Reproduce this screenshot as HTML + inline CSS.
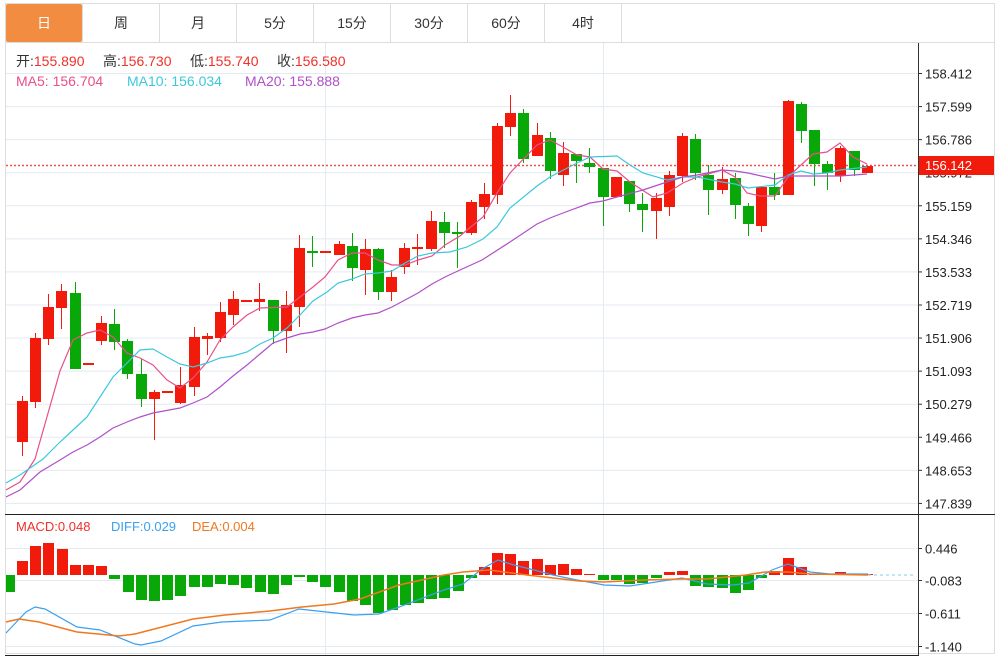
<!DOCTYPE html>
<html><head><meta charset="utf-8"><style>
body{margin:0;width:1003px;height:658px;background:#fff;overflow:hidden;font-family:"Liberation Sans","Noto Sans CJK SC",sans-serif;}
svg{position:absolute;left:0;top:0}
</style></head><body>
<svg id="s" width="1003" height="658" xmlns="http://www.w3.org/2000/svg" font-family="Liberation Sans, Noto Sans CJK SC, sans-serif">
<rect x="5.5" y="3.5" width="989" height="650" fill="#fff" stroke="#ddd"/>
<line x1="5" y1="42.5" x2="995" y2="42.5" stroke="#ddd"/>
<rect x="6" y="4" width="76" height="38" fill="#f28c40" rx="2"/>
<g stroke="#ddd"><line x1="82.5" y1="4" x2="82.5" y2="42"/><line x1="159.5" y1="4" x2="159.5" y2="42"/><line x1="236.5" y1="4" x2="236.5" y2="42"/><line x1="313.5" y1="4" x2="313.5" y2="42"/><line x1="390.5" y1="4" x2="390.5" y2="42"/><line x1="467.5" y1="4" x2="467.5" y2="42"/><line x1="544.5" y1="4" x2="544.5" y2="42"/><line x1="621.5" y1="4" x2="621.5" y2="42"/></g>
<g font-size="14" text-anchor="middle" fill="#333"><text x="44" y="28" fill="#fff">日</text><text x="121" y="28">周</text><text x="198" y="28">月</text><text x="275" y="28">5分</text><text x="352" y="28">15分</text><text x="429" y="28">30分</text><text x="506" y="28">60分</text><text x="583" y="28">4时</text></g>
<g id="grid" stroke="#e3eaf0"></g>
<line x1="918.5" y1="43" x2="918.5" y2="656" stroke="#333"/>
<line x1="5" y1="514.5" x2="995" y2="514.5" stroke="#222"/>
<line x1="5" y1="655.5" x2="918" y2="655.5" stroke="#222"/>
<g font-size="14">
<text x="16" y="66" fill="#333">开:<tspan fill="#f0302a">155.890</tspan></text>
<text x="103" y="66" fill="#333">高:<tspan fill="#f0302a">156.730</tspan></text>
<text x="190" y="66" fill="#333">低:<tspan fill="#f0302a">155.740</tspan></text>
<text x="277" y="66" fill="#333">收:<tspan fill="#f0302a">156.580</tspan></text>
<text x="16" y="86" fill="#e8508a">MA5: 156.704</text>
<text x="127" y="86" fill="#3cc8dc">MA10: 156.034</text>
<text x="245" y="86" fill="#b050c8">MA20: 155.888</text></g>
<g font-size="13"><text x="16" y="531" fill="#f0302a">MACD:0.048</text><text x="111" y="531" fill="#3aa0f0">DIFF:0.029</text><text x="192" y="531" fill="#f07820">DEA:0.004</text></g>
<g id="ax" font-size="13" fill="#222"></g>
<line x1="6" y1="165.5" x2="918" y2="165.5" stroke="#f05050" stroke-dasharray="2,2" stroke-width="1.5"/>
<g id="c"></g>
<g id="m" fill="none" stroke-width="1.2"></g>
<rect x="919" y="156" width="75" height="19" fill="#f21a0a"/>
<text x="925" y="170" font-size="13" fill="#fff">156.142</text>
</svg>
<script>
var NS="http://www.w3.org/2000/svg";
function el(p,t,a,txt){var e=document.createElementNS(NS,t);for(var k in a)e.setAttribute(k,a[k]);if(txt)e.textContent=txt;document.getElementById(p).appendChild(e);return e;}
var labs=["158.412","157.599","156.786","155.972","155.159","154.346","153.533","152.719","151.906","151.093","150.279","149.466","148.653","147.839"];
labs.forEach(function(l,i){var y=73.5+i*33.07;el("grid","line",{x1:6,x2:918,y1:y,y2:y});el("ax","line",{x1:918,x2:922,y1:y,y2:y,stroke:"#333"});el("ax","text",{x:925,y:y+5},l);});
[["0.446",548],["-0.083",580],["-0.611",613],["-1.140",646]].forEach(function(a){var y=a[1]+.5;el("grid","line",{x1:6,x2:918,y1:y,y2:y});el("ax","line",{x1:918,x2:922,y1:y,y2:y,stroke:"#333"});el("ax","text",{x:925,y:y+5},a[0]);});
[325.5,603.5].forEach(function(x){el("grid","line",{x1:x,x2:x,y1:43,y2:655});});
var C=[[22,442,401,396,456,1],[35,402,338,333,408,1],[48,339,307,294,345,1],[61,308,291,284,329,1],[75,293,369,282,369,0],[88,363,363,363,363,1],[101,341,323,316,345,1],[114,324,342,309,350,0],[127,341,374,339,379,0],[141,374,399,359,407,0],[154,399,392,390,440,1],[167,391,391,391,391,1],[180,403,385,367,404,1],[194,387,337,327,396,1],[207,339,336,333,355,1],[220,338,312,302,342,1],[233,315,299,291,325,1],[246,300,300,300,300,1],[259,302,299,283,311,1],[273,300,331,300,344,0],[286,331,305,291,353,1],[299,307,248,235,327,1],[312,251,252,236,267,0],[325,251,251,251,251,1],[339,255,244,241,255,1],[352,246,268,233,281,0],[365,270,249,239,295,1],[378,249,292,248,300,0],[391,292,277,270,301,1],[404,267,248,243,274,1],[417,249,247,234,265,1],[431,249,221,211,251,1],[444,222,233,212,248,0],[457,232,233,222,268,0],[471,233,202,200,235,1],[484,207,194,183,219,1],[497,195,126,123,204,1],[510,127,113,95,136,1],[523,113,159,109,163,0],[537,156,135,123,156,1],[550,138,171,132,179,0],[563,175,153,142,186,1],[576,154,161,154,183,0],[589,163,167,148,173,0],[603,168,197,168,226,0],[616,197,177,177,197,1],[629,181,204,181,212,0],[642,204,210,193,232,0],[656,211,198,193,239,1],[669,207,175,171,216,1],[682,176,136,133,182,1],[695,139,173,134,180,0],[708,175,190,165,215,0],[722,190,179,167,194,1],[735,178,205,173,219,0],[748,206,224,203,236,0],[761,226,187,186,232,1],[774,187,195,173,200,0],[788,195,101,100,195,1],[801,104,131,102,143,0],[814,130,164,130,186,0],[827,164,173,161,190,0],[840,176,148,146,182,1],[854,151,170,151,176,0],[867,173,166,166,173,1]];
C.forEach(function(c){var col=c[5]?"#f21a0a":"#08a808";var t=Math.min(c[1],c[2]),b=Math.max(c[1],c[2]);
el("c","line",{x1:c[0]+.5,x2:c[0]+.5,y1:c[3],y2:c[4],stroke:col});
el("c","rect",{x:c[0]-5,y:t,width:11,height:Math.max(b-t,2),fill:col});});
var Z=575;
var H=[[9,592],[22,561],[35,546],[48,543],[62,549],[75,565],[88,565],[101,566],[114,579],[128,592],[141,600],[154,601],[167,600],[180,596],[194,587],[207,587],[220,584],[233,585],[246,588],[260,592],[273,594],[286,585],[299,577],[312,582],[325,587],[339,592],[352,601],[365,605],[378,613],[392,610],[405,605],[418,603],[431,599],[444,598],[458,591],[471,578],[484,567],[497,553],[510,554],[523,561],[537,559],[550,565],[563,564],[576,569],[589,574],[603,580],[616,580],[629,584],[642,583],[656,578],[669,572],[682,571],[695,586],[708,587],[722,588],[735,593],[748,590],[761,578],[774,571],[788,558],[801,567],[814,574],[827,574],[840,572],[854,574],[867,574]];
H.forEach(function(h){var y=h[1];var up=y<Z;var x0=Math.max(h[0]-5,6);el("c","rect",{x:x0,y:Math.min(y,Z),width:h[0]+6-x0,height:Math.max(Math.abs(y-Z),1),fill:up?"#f21a0a":"#08a808"});});
function pl(pts,col,extra){var a={points:pts,stroke:col};for(var k in extra)a[k]=extra[k];el("m","polyline",a);}
pl("6,490 20,482 35,459 60,371 73,340 87,333 100,330 113,337 127,353 140,358 153,365 167,380 180,388 193,378 207,362 220,340 233,327 247,315 260,308 287,307 300,297 313,287 325,277 338,260 352,253 365,253 378,260 392,265 405,265 418,260 432,256 445,245 460,236 467,230 483,217 497,193 510,173 537,145 550,140 563,147 577,155 590,157 603,169 617,171 630,182 653,197 667,193 683,183 697,177 722,170 735,177 747,193 760,196 775,196 788,177 801,165 813,154 827,152 840,143 853,157 867,164","#e8508a");
pl("6,483 20,475 43,459 60,442 73,430 87,417 100,397 113,377 127,363 140,350 153,349 167,357 180,364 193,367 207,363 220,358 233,356 247,352 260,344 273,338 287,328 300,315 313,301 327,292 338,283 352,279 365,274 378,273 392,271 405,263 418,256 432,253 450,252 467,247 483,239 497,227 510,208 537,186 550,177 577,163 590,157 617,156 630,165 643,173 667,180 683,177 697,177 722,182 735,184 748,188 775,185 788,175 801,171 813,174 827,173 840,170 867,167","#3cc8dc");
pl("6,497 20,490 40,472 60,460 73,452 87,445 100,437 113,428 127,422 140,417 153,413 180,408 193,403 207,397 220,387 233,376 247,365 260,354 273,343 287,338 300,334 313,332 325,329 338,323 352,318 365,315 378,313 392,307 405,300 418,293 432,284 445,277 460,270 482,260 510,242 537,224 550,218 563,213 590,203 603,201 617,197 643,190 667,182 683,177 697,175 722,170 735,171 748,173 775,179 788,176 813,176 840,176 867,174","#b050c8");
pl("6,633 26,612 35,607 45,609 77,627 100,630 135,644 141,645 161,641 193,626 222,622 270,620 299,609 354,615 379,614 399,607 444,590 463,584 482,569 498,560 514,565 534,570 553,575 572,579 604,585 630,586 643,584 682,578 707,584 733,585 749,583 772,570 788,564 810,572 830,574 868,574","#3aa0f0");
pl("6,622 19,619 39,622 77,632 119,636 135,634 193,619 225,615 270,611 302,607 334,604 360,599 399,585 444,575 463,572 489,570 527,575 579,581 604,582 643,580 682,579 707,579 746,575 765,572 788,572 810,574 868,575","#f07820",{"stroke-width":1.5});
pl("868,575 916,575","#9ad8f0",{"stroke-dasharray":"3,3"});
</script>
</body></html>
